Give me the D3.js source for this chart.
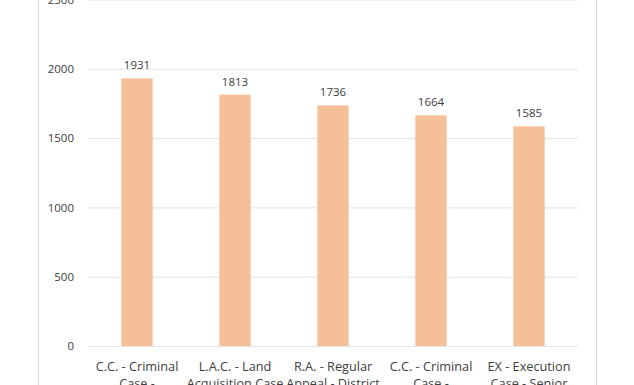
<!DOCTYPE html>
<html>
<head>
<meta charset="utf-8">
<script src="https://cdn.jsdelivr.net/npm/d3@7"></script>
<style>
  body { margin: 0; background: #fff; }
  svg { display: block; font-family: "Open Sans", sans-serif; }
  .grid line { stroke: #e3e3e3; }
  .grid .domain { display: none; }
  .tick text { fill: #404040; }
</style>
</head>
<body>
<script>
// category names, line breaks as they wrap in the chart
var categories = [
  "C.C. - Criminal\nCase -\nMagistrate Court",
  "L.A.C. - Land\nAcquisition Case",
  "R.A. - Regular\nAppeal - District\nCourt",
  "C.C. - Criminal\nCase -\nMagistrate Court",
  "EX - Execution\nCase - Senior\nCivil Judge"
];
var values = [1931, 1813, 1736, 1664, 1585];
var yTicks = [0, 500, 1000, 1500, 2000, 2500];

(function() {
  var width = 634;
  var height = 385;
  var plotLeft = 88, plotRight = 578, plotBottom = 346, plotTop = -0.5;

  var svg = d3.select('body')
    .append('svg')
    .attr('width', width)
    .attr('height', height);

  // chart frame
  svg.append('rect')
    .attr('x', 38.5)
    .attr('y', -20)
    .attr('width', 558)
    .attr('height', 440)
    .attr('fill', 'none')
    .attr('stroke', '#d9d9d9');

  var xScale = d3.scaleBand()
    .domain(d3.range(categories.length))
    .range([plotLeft, plotRight])
    .paddingInner(0.68)
    .paddingOuter(0.34);

  var yScale = d3.scaleLinear()
    .domain([0, 2500])
    .range([plotBottom, plotTop]);

  // gridlines + y labels
  var yAxis = d3.axisLeft(yScale)
    .tickValues(yTicks)
    .tickFormat(d3.format('d'))
    .tickSize(-(plotRight - plotLeft))
    .tickPadding(14);

  svg.append('g')
    .attr('class', 'grid')
    .attr('transform', `translate(${plotLeft}, 0)`)
    .call(yAxis)
    .selectAll('text')
    .style('font-size', '11.5px')
    .style('font-family', '"Open Sans", sans-serif');

  svg.selectAll('rect.bar')
    .data(values)
    .enter()
    .append('rect')
    .attr('class', 'bar')
    .attr('x', (d, i) => xScale(i))
    .attr('y', d => yScale(d))
    .attr('width', xScale.bandwidth())
    .attr('height', d => plotBottom - yScale(d))
    .attr('fill', '#f5bf97');

  svg.selectAll('text.val')
    .data(values)
    .enter()
    .append('text')
    .attr('class', 'val')
    .attr('x', (d, i) => xScale(i) + xScale.bandwidth() / 2)
    .attr('y', d => yScale(d) - 9)
    .attr('text-anchor', 'middle')
    .attr('fill', '#404040')
    .style('font-size', '11.5px')
    .text(d => d);

  // category labels
  var labels = svg.selectAll('text.cat')
    .data(categories)
    .enter()
    .append('text')
    .attr('class', 'cat')
    .attr('text-anchor', 'middle')
    .attr('fill', '#404040')
    .style('font-size', '12.7px')
    .attr('transform', (d, i) => `translate(${xScale(i) + xScale.bandwidth() / 2}, 371)`);

  labels.selectAll('tspan')
    .data(d => d.split('\n'))
    .enter()
    .append('tspan')
    .attr('x', 0)
    .attr('dy', (d, i) => (i === 0 ? 0 : 17))
    .text(d => d);
})();
</script>
</body>
</html>
